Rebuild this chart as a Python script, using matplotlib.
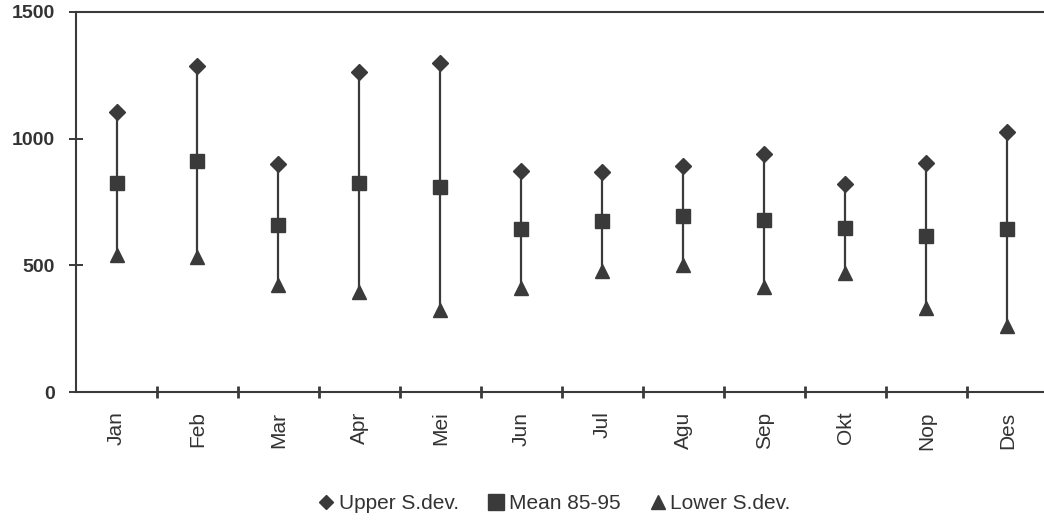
import numpy as np
import matplotlib
matplotlib.use("Agg")
import matplotlib.pyplot as plt
from matplotlib.lines import Line2D

plt.rcParams["font.family"] = ["Liberation Sans", "DejaVu Sans"]

months = ["Jan", "Feb", "Mar", "Apr", "Mei", "Jun", "Jul", "Agu", "Sep", "Okt", "Nop", "Des"]
upper = [1105, 1285, 900, 1263, 1300, 872, 868, 892, 940, 821, 904, 1026]
mean = [825, 912, 659, 825, 809, 643, 675, 695, 679, 647, 616, 643]
lower = [540, 533, 422, 395, 324, 410, 478, 501, 415, 470, 332, 261]

ink = "#3a3a3a"

fig = plt.figure(figsize=(10.44, 5.2), dpi=100)
ax = fig.add_axes([0.0728, 0.246, 0.931, 0.731])

x = np.arange(len(months))

# vertical range lines from lower to upper
ax.vlines(x, lower, upper, color=ink, lw=1.6, zorder=1)

ax.plot(x, upper, ls="none", marker="D", ms=8.5, color=ink, zorder=3)
ax.plot(x, mean, ls="none", marker="s", ms=10.5, color=ink, zorder=3)
ax.plot(x, lower, ls="none", marker="^", ms=9.5, color=ink, zorder=3)

ax.set_xlim(-0.5, 11.5)
ax.set_ylim(0, 1500)

ax.set_yticks([0, 500, 1000, 1500])
ax.set_yticklabels(["0", "500", "1000", "1500"], fontsize=14, fontweight="bold", color="#333333")
ax.tick_params(axis="y", direction="inout", length=10, width=1.4, color=ink, pad=10)

ax.set_xticks(np.arange(0.5, 11.5, 1.0))
ax.set_xticklabels([])
ax.set_xticks(x, minor=True)
ax.set_xticklabels(months, minor=True, rotation=90, fontsize=15, color="#333333")
ax.tick_params(axis="x", which="major", direction="inout", length=8, width=2, color=ink)
ax.tick_params(axis="x", which="minor", length=0, pad=14)

for side in ["left", "bottom", "top"]:
    ax.spines[side].set_color(ink)
    ax.spines[side].set_linewidth(1.5)
ax.spines["right"].set_visible(False)

handles = [
    Line2D([], [], ls="none", marker="D", ms=7, color=ink, label="Upper S.dev."),
    Line2D([], [], ls="none", marker="s", ms=11, color=ink, label="Mean 85-95"),
    Line2D([], [], ls="none", marker="^", ms=10, color=ink, label="Lower S.dev."),
]
leg = fig.legend(handles=handles, loc="center", bbox_to_anchor=(0.531, 0.031), ncol=3,
                 frameon=False, fontsize=15, handlelength=0.8, handletextpad=0.2,
                 columnspacing=1.4)
for t in leg.get_texts():
    t.set_color("#333333")

fig.savefig("out.png", dpi=100)
